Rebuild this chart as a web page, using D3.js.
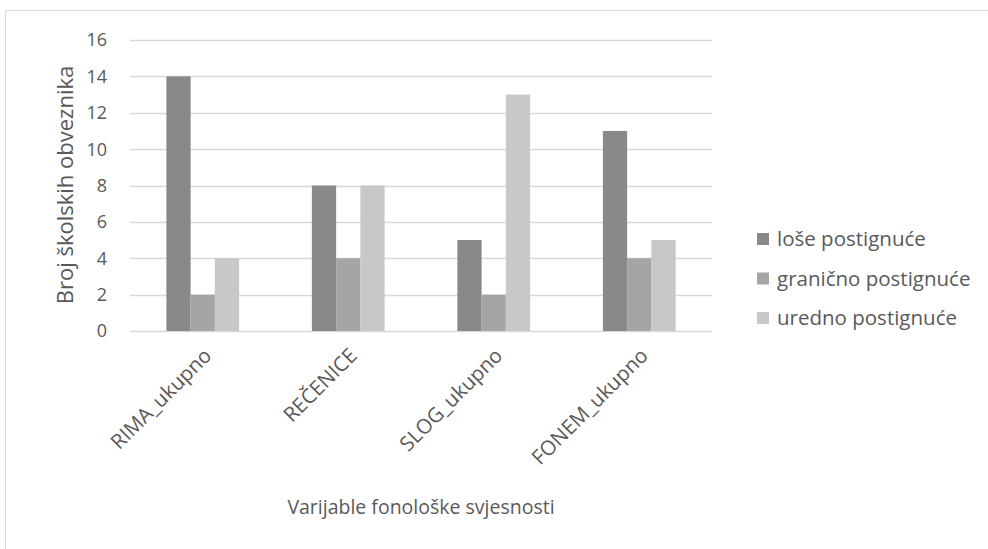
<!DOCTYPE html>
<html>
    <head>
        <title>Fonoloska svjesnost</title>
        <style>
            body { margin: 0; background: #fff; }
            text { font-family: "Open Sans", sans-serif; fill: #595959; }
        </style>
    </head>
    <body>
        <div id="chart"></div>
        <script src="https://cdn.jsdelivr.net/npm/d3@7"></script>
        <script>
            var categories = ["RIMA_ukupno", "REČENICE", "SLOG_ukupno", "FONEM_ukupno"];
            var seriesNames = ["loše postignuće", "granično postignuće", "uredno postignuće"];
            var lose = [14, 8, 5, 11];
            var granicno = [2, 4, 2, 4];
            var uredno = [4, 8, 13, 5];
            var yTicks = [0, 2, 4, 6, 8, 10, 12, 14, 16];
            var colors = ["#898989", "#a5a5a5", "#c8c8c8"];

            var series = [lose, granicno, uredno];
            var W = 988, H = 549;
            var plot = { left: 130, right: 712, top: 40, bottom: 331 };

            var svg = d3.select("#chart").append("svg")
                .attr("width", W)
                .attr("height", H);

            // chart frame
            svg.append("rect")
                .attr("x", 5.5).attr("y", 10.5)
                .attr("width", W + 10).attr("height", H + 10)
                .attr("fill", "none")
                .attr("stroke", "#d9d9d9");

            var x = d3.scaleBand().domain(categories).range([plot.left, plot.right]);
            var x1 = d3.scaleBand().domain(d3.range(series.length))
                .range([0, x.bandwidth()]).paddingOuter(1.5);
            var y = d3.scaleLinear().domain([0, 16]).range([plot.bottom, plot.top]);

            // gridlines
            svg.selectAll(".grid")
                .data(yTicks)
                .enter().append("line")
                    .attr("class", "grid")
                    .attr("x1", plot.left).attr("x2", plot.right)
                    .attr("y1", function(d) { return Math.round(y(d)) + 0.5; })
                    .attr("y2", function(d) { return Math.round(y(d)) + 0.5; })
                    .attr("stroke", "#d9d9d9")
                    .attr("stroke-width", 1.3);

            svg.selectAll(".ytick")
                .data(yTicks)
                .enter().append("text")
                    .attr("class", "ytick")
                    .attr("x", 107)
                    .attr("y", function(d) { return y(d); })
                    .attr("dy", "0.36em")
                    .attr("text-anchor", "end")
                    .style("font-size", "18px")
                    .text(function(d) { return d; });

            // bars
            var groups = svg.selectAll(".cat")
                .data(categories)
                .enter().append("g")
                    .attr("class", "cat")
                    .attr("transform", function(d) { return "translate(" + x(d) + ",0)"; });

            groups.selectAll("rect")
                .data(function(d, i) { return series.map(function(s, j) { return { k: j, v: s[i] }; }); })
                .enter().append("rect")
                    .attr("x", function(d) { return x1(d.k); })
                    .attr("width", x1.bandwidth())
                    .attr("y", function(d) { return y(d.v); })
                    .attr("height", function(d) { return y(0) - y(d.v); })
                    .attr("fill", function(d) { return colors[d.k]; });

            // category labels
            svg.selectAll(".xlab")
                .data(categories)
                .enter().append("text")
                    .attr("class", "xlab")
                    .attr("text-anchor", "end")
                    .style("font-size", "20.5px")
                    .attr("transform", function(d) {
                        return "translate(" + (x(d) + x.bandwidth() / 2 + 10) + ",357) rotate(-45)";
                    })
                    .text(function(d) { return d; });

            // axis titles
            svg.append("text")
                .attr("transform", "translate(73,185) rotate(-90)")
                .attr("text-anchor", "middle")
                .style("font-size", "22px")
                .text("Broj školskih obveznika");

            svg.append("text")
                .attr("x", 421).attr("y", 514)
                .attr("text-anchor", "middle")
                .style("font-size", "19.5px")
                .text("Varijable fonološke svjesnosti");

            // legend
            var legend = svg.selectAll(".legend")
                .data(seriesNames)
                .enter().append("g")
                    .attr("class", "legend")
                    .attr("transform", function(d, i) { return "translate(757," + (239 + i * 39.5) + ")"; });

            legend.append("rect")
                .attr("x", 0).attr("y", -6)
                .attr("width", 12).attr("height", 12)
                .attr("fill", function(d, i) { return colors[i]; });

            legend.append("text")
                .attr("x", 20).attr("dy", "0.36em")
                .style("font-size", "20.5px")
                .text(function(d) { return d; });
        </script>
    </body>
</html>
